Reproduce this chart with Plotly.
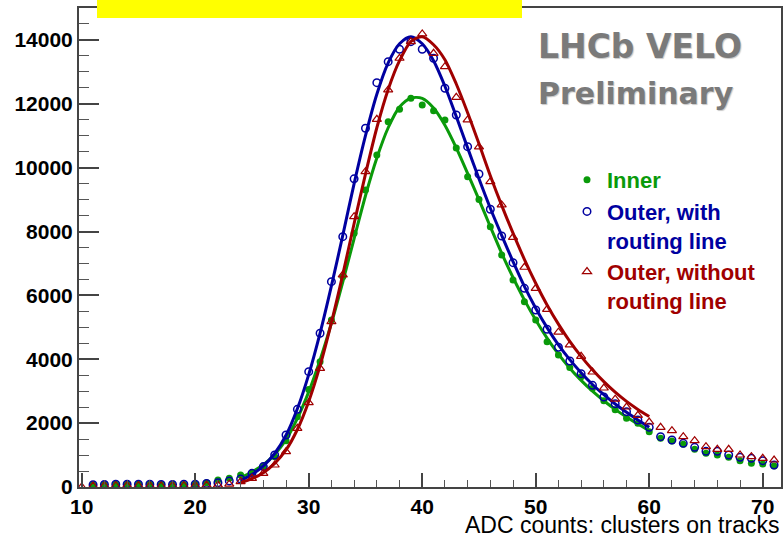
import plotly.graph_objects as go

# ---------------- data ----------------
adc = list(range(10, 72))  # bin centres 10..71

inner = [None, 70, 80, 85, 90, 90, 85, 80, 80, 80,
         90, 135, 219, 272, 376, 449, 650, 950, 1450, 2200,
         3050, 3925, 5230, 6587, 7945, 9301, 10398, 11441, 11828, 12173,
         11964, 11786, 11494, 10617, 9718, 9000, 8152, 7266, 6483, 5803,
         5230, 4551, 4134, 3740, 3455, 3090, 2700, 2420, 2150, 1994,
         1733, 1524, 1440, 1336, 1180, 1054, 1002, 929, 825, 741,
         720, 658]

outer_with = [None, 70, 80, 85, 85, 90, 85, 80, 80, 85,
              90, 110, 135, 190, 250, 428, 640, 1002, 1628, 2433,
              3612, 4814, 6430, 7840, 9650, 11234, 12663, 13320, 13708, 13947,
              13708, 13426, 12486, 11650, 10658, 9800, 8697, 7861, 7025, 6222,
              5543, 4939, 4375, 3946, 3549, 3184, 2818, 2610, 2359, 2098,
              1868, 1576, 1472, 1367, 1242, 1117, 1117, 1002, 929, 898,
              825, 689]

outer_without = [0, 30, 40, 40, 45, 40, 40, 35, 40, 40,
                 45, 55, 60, 90, 170, 271, 428, 689, 1106, 1837,
                 2641, 3717, 5178, 6640, 8466, 9876, 11515, 12433, 13426, 13947,
                 14187, 13581, 13163, 12204, 11494, 10650, 9562, 8832, 7820, 6881,
                 6222, 5565, 4850, 4450, 4092, 3601, 3100, 2750, 2505, 2244,
                 2035, 1868, 1764, 1576, 1451, 1263, 1180, 1180, 1002, 950,
                 898, 845]

fit_adc = list(range(24, 61))
inner_fit = [300, 470, 700, 1020, 1480, 2150, 2980, 3980, 5130, 6420,
             7780, 9120, 10300, 11250, 11900, 12180, 12170, 11870, 11330, 10620,
             9820, 9000, 8150, 7320, 6560, 5860, 5230, 4660, 4160, 3720,
             3340, 3000, 2700, 2430, 2190, 1970, 1760]
outer_with_fit = [200, 390, 660, 1050, 1620, 2450, 3520, 4820, 6300, 7880,
                  9500, 11000, 12300, 13280, 13880, 14100, 13880, 13350, 12550, 11600,
                  10620, 9650, 8730, 7880, 7060, 6280, 5600, 4990, 4450, 3990,
                  3580, 3210, 2890, 2600, 2340, 2100, 1870]
outer_without_fit = [130, 260, 450, 740, 1160, 1800, 2680, 3800, 5150, 6650,
                     8250, 9800, 11250, 12450, 13350, 13950, 14100, 13850, 13380, 12620,
                     11720, 10750, 9750, 8820, 7950, 7130, 6380, 5700, 5100, 4560,
                     4090, 3670, 3300, 2970, 2680, 2430, 2210]

names = ["Inner", "Outer, with<br>routing line", "Outer, without<br>routing line"]
colors = ["#0a9a0a", "#0000a0", "#a00000"]

# ---------------- figure ----------------
W, H = 783, 538
L, R, T, B = 79, 2, 8, 51
PW, PH = W - L - R, H - T - B


def px(x):
    return (x - L) / PW


def py(y):
    return (H - B - y) / PH


fig = go.Figure()

series = [
    (inner, inner_fit, dict(symbol="circle", size=7, color=colors[0])),
    (outer_with, outer_with_fit, dict(symbol="circle-open", size=7.5, color=colors[1],
                                      line=dict(width=1.5, color=colors[1]))),
    (outer_without, outer_without_fit, dict(symbol="triangle-up-open", size=8, color=colors[2],
                                            line=dict(width=1.2, color=colors[2]))),
]

for i, (vals, fitv, mk) in enumerate(series):
    fig.add_trace(go.Scatter(
        x=adc, y=vals, mode="markers", marker=mk,
        name=f"<span style='color:{colors[i]}'>{names[i]}</span>",
        showlegend=True))
    fig.add_trace(go.Scatter(
        x=fit_adc, y=fitv, mode="lines",
        line=dict(color=colors[i], width=3, shape="spline", smoothing=0.8),
        showlegend=False, hoverinfo="skip"))

tickfont = dict(family="Liberation Sans", size=21, color="black", weight="bold")

fig.update_layout(
    width=W, height=H,
    margin=dict(l=L, r=R, t=T, b=B, autoexpand=False),
    paper_bgcolor="white", plot_bgcolor="white",
    xaxis=dict(range=[9.76, 71.61], showgrid=False, zeroline=False,
               showline=True, linecolor="#444", linewidth=2, mirror=True,
               ticks="inside", ticklen=14, tickwidth=1.5, tickcolor="#444",
               tick0=0, dtick=10, tickfont=tickfont,
               minor=dict(ticks="inside", ticklen=7, dtick=2, tickcolor="#555",
                          tickwidth=1.2, showgrid=False)),
    yaxis=dict(range=[0, 15000], showgrid=False, zeroline=False,
               showline=True, linecolor="#444", linewidth=2, mirror=True,
               ticks="inside", ticklen=20, tickwidth=1.5, tickcolor="#444",
               tick0=0, dtick=2000, tickformat="d", tickfont=tickfont,
               minor=dict(ticks="inside", ticklen=10, dtick=500, tickcolor="#555",
                          tickwidth=1.2, showgrid=False)),
    legend=dict(x=px(567), y=py(159), xanchor="left", yanchor="top",
                bgcolor="rgba(0,0,0,0)", valign="top", tracegroupgap=0,
                font=dict(family="Liberation Sans", size=22, weight="bold")),
    showlegend=True,
)

# yellow banner at top
fig.add_shape(type="rect", xref="paper", yref="paper",
              x0=px(97), x1=px(522), y0=py(18), y1=py(-3),
              fillcolor="#ffff00", line=dict(width=0), layer="above")

# LHCb VELO Preliminary
lab = dict(family="DejaVu Sans", size=33, color="#7a7a7a", weight="bold",
           shadow="1px 1px 1px #c8c8c8")
fig.add_annotation(text="LHCb VELO", xref="paper", yref="paper",
                   x=px(536), y=py(46), xanchor="left", yanchor="middle",
                   showarrow=False, font=lab)
lab2 = dict(lab)
lab2["size"] = 30
fig.add_annotation(text="Preliminary", xref="paper", yref="paper",
                   x=px(536), y=py(93), xanchor="left", yanchor="middle",
                   showarrow=False, font=lab2)

# x axis title (right aligned, ROOT style)
fig.add_annotation(text="ADC counts: clusters on tracks", xref="paper", yref="paper",
                   x=1.0, y=py(525), xanchor="right", yanchor="middle",
                   showarrow=False,
                   font=dict(family="Liberation Sans", size=23, color="black"))

fig.write_html("out.html", config={"displayModeBar": False},
               post_script="document.body.style.margin='0';document.body.style.padding='0';")
